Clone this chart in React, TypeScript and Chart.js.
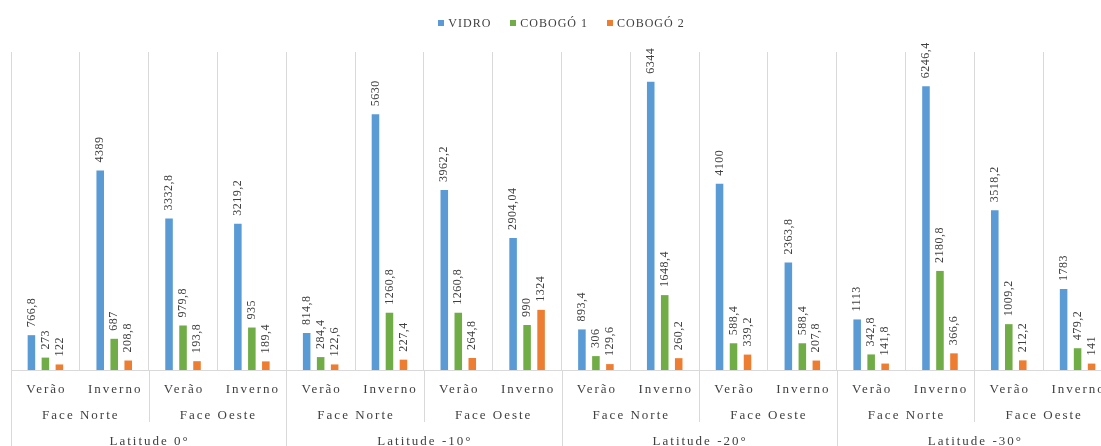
import { useEffect, useRef } from "react";
import { Chart, registerables } from "chart.js";

Chart.register(...registerables);

// Category hierarchy: season inside facade inside latitude
const seasons = ["Verão", "Inverno"];
const faces = ["Face Norte", "Face Oeste"];
const latitudes = ["Latitude 0°", "Latitude -10°", "Latitude -20°", "Latitude -30°"];

// Series values, one per season/facade/latitude combination (16 in order)
const vidro = [
  766.8, 4389, 3332.8, 3219.2,
  814.8, 5630, 3962.2, 2904.04,
  893.4, 6344, 4100, 2363.8,
  1113, 6246.4, 3518.2, 1783,
];
const cobogo1 = [
  273, 687, 979.8, 935,
  284.4, 1260.8, 1260.8, 990,
  306, 1648.4, 588.4, 588.4,
  342.8, 2180.8, 1009.2, 479.2,
];
const cobogo2 = [
  122, 208.8, 193.8, 189.4,
  122.6, 227.4, 264.8, 1324,
  129.6, 260.2, 339.2, 207.8,
  141.8, 366.6, 212.2, 141,
];

const seriesNames = ["VIDRO", "COBOGÓ 1", "COBOGÓ 2"];
const seriesColors = ["#5B9BD5", "#70AD47", "#ED7D31"];

const yMax = 7000;

const SERIF = "'Liberation Serif', 'Times New Roman', serif";
const TEXT = "#404040";
const GRID = "#D9D9D9";

// Flattened category labels (season), in latitude/facade/season order
const categoryLabels: string[] = [];
latitudes.forEach(() => faces.forEach(() => seasons.forEach((s) => categoryLabels.push(s))));

const formatValue = (v: number) => String(v).replace(".", ",");

// Value labels written vertically above each bar
const valueLabels = {
  id: "valueLabels",
  afterDatasetsDraw(chart: any) {
    const ctx = chart.ctx as CanvasRenderingContext2D;
    ctx.save();
    ctx.font = `12px ${SERIF}`;
    (ctx as any).letterSpacing = "0.5px";
    ctx.fillStyle = TEXT;
    ctx.textAlign = "left";
    ctx.textBaseline = "middle";
    chart.data.datasets.forEach((ds: any, d: number) => {
      const meta = chart.getDatasetMeta(d);
      meta.data.forEach((bar: any, i: number) => {
        ctx.save();
        ctx.translate(bar.x, bar.y - 8);
        ctx.rotate(-Math.PI / 2);
        ctx.fillText(formatValue(ds.data[i]), 0, 0);
        ctx.restore();
      });
    });
    ctx.restore();
  },
};

// Three-level category axis under the plot
const groupedAxis = {
  id: "groupedAxis",
  afterDraw(chart: any) {
    const ctx = chart.ctx as CanvasRenderingContext2D;
    const x = chart.scales.x;
    const n = categoryLabels.length;
    const step = (x.right - x.left) / n;
    const base = chart.chartArea.bottom;
    const bottom = chart.height;
    const edge = (k: number) => Math.round(x.left + k * step) + 0.5;

    ctx.save();
    ctx.strokeStyle = GRID;
    ctx.lineWidth = 1;
    const perLat = faces.length * seasons.length;
    for (let k = 0; k <= n; k += seasons.length) {
      const isLat = k % perLat === 0;
      ctx.beginPath();
      ctx.moveTo(edge(k), base);
      ctx.lineTo(edge(k), isLat ? bottom : base + 52);
      ctx.stroke();
    }

    ctx.font = `13px ${SERIF}`;
    (ctx as any).letterSpacing = "2px";
    ctx.fillStyle = TEXT;
    ctx.textAlign = "center";
    ctx.textBaseline = "middle";

    categoryLabels.forEach((lab, i) => {
      ctx.fillText(lab, x.getPixelForValue(i) + 1, base + 19.5);
    });
    let k = 0;
    latitudes.forEach(() =>
      faces.forEach((f) => {
        const c = x.left + (k + seasons.length / 2) * step;
        ctx.fillText(f, c + 1, base + 45.5);
        k += seasons.length;
      })
    );
    latitudes.forEach((lat, li) => {
      const c = x.left + (li + 0.5) * perLat * step;
      ctx.fillText(lat, c + 1, base + 71.5);
    });
    ctx.restore();
  },
};

// Centered legend row at the top
const topLegend = {
  id: "topLegend",
  afterDraw(chart: any) {
    const ctx = chart.ctx as CanvasRenderingContext2D;
    ctx.save();
    ctx.font = `12px ${SERIF}`;
    (ctx as any).letterSpacing = "1px";
    const box = 6;
    const gapText = 4;
    const gapItem = 19;
    const items = chart.data.datasets.map((ds: any) => ({
      label: ds.label as string,
      color: ds.backgroundColor as string,
      w: ctx.measureText(ds.label).width,
    }));
    const total =
      items.reduce((s: number, it: any) => s + box + gapText + it.w, 0) + gapItem * (items.length - 1);
    let cx = chart.width / 2 - total / 2;
    const cy = 23;
    ctx.textBaseline = "middle";
    ctx.textAlign = "left";
    items.forEach((it: any) => {
      ctx.fillStyle = it.color;
      ctx.fillRect(Math.round(cx), cy - box / 2, box, box);
      ctx.fillStyle = TEXT;
      ctx.fillText(it.label, cx + box + gapText, cy + 0.5);
      cx += box + gapText + it.w + gapItem;
    });
    ctx.restore();
  },
};

export default function App() {
  const canvasRef = useRef<HTMLCanvasElement | null>(null);

  useEffect(() => {
    if (!canvasRef.current) return;
    const series = [vidro, cobogo1, cobogo2];
    const chart = new Chart(canvasRef.current, {
      type: "bar",
      data: {
        labels: categoryLabels,
        datasets: series.map((values, i) => ({
          label: seriesNames[i],
          data: values,
          backgroundColor: seriesColors[i],
          borderWidth: 0,
          categoryPercentage: 0.61,
          barPercentage: 0.54,
        })),
      },
      options: {
        animation: false,
        responsive: true,
        maintainAspectRatio: false,
        layout: { padding: { left: 11, right: 11, top: 52, bottom: 76 } },
        plugins: {
          legend: { display: false },
          tooltip: { enabled: false },
          title: { display: false },
        },
        scales: {
          x: {
            offset: true,
            grid: { display: true, color: GRID, lineWidth: 1, drawTicks: false, offset: true },
            border: { display: true, color: GRID, width: 1 },
            ticks: { display: false },
          },
          y: {
            display: false,
            min: 0,
            max: yMax,
            grid: { display: false },
          },
        },
      },
      plugins: [valueLabels, groupedAxis, topLegend],
    });
    return () => chart.destroy();
  }, []);

  return (
    <div
      style={{
        position: "fixed",
        left: 0,
        top: 0,
        width: 1101,
        height: 446,
        overflow: "hidden",
        background: "#ffffff",
      }}
    >
      <div style={{ position: "absolute", left: 0, top: 0, width: 1123, height: 446 }}>
        <canvas ref={canvasRef} />
      </div>
    </div>
  );
}
